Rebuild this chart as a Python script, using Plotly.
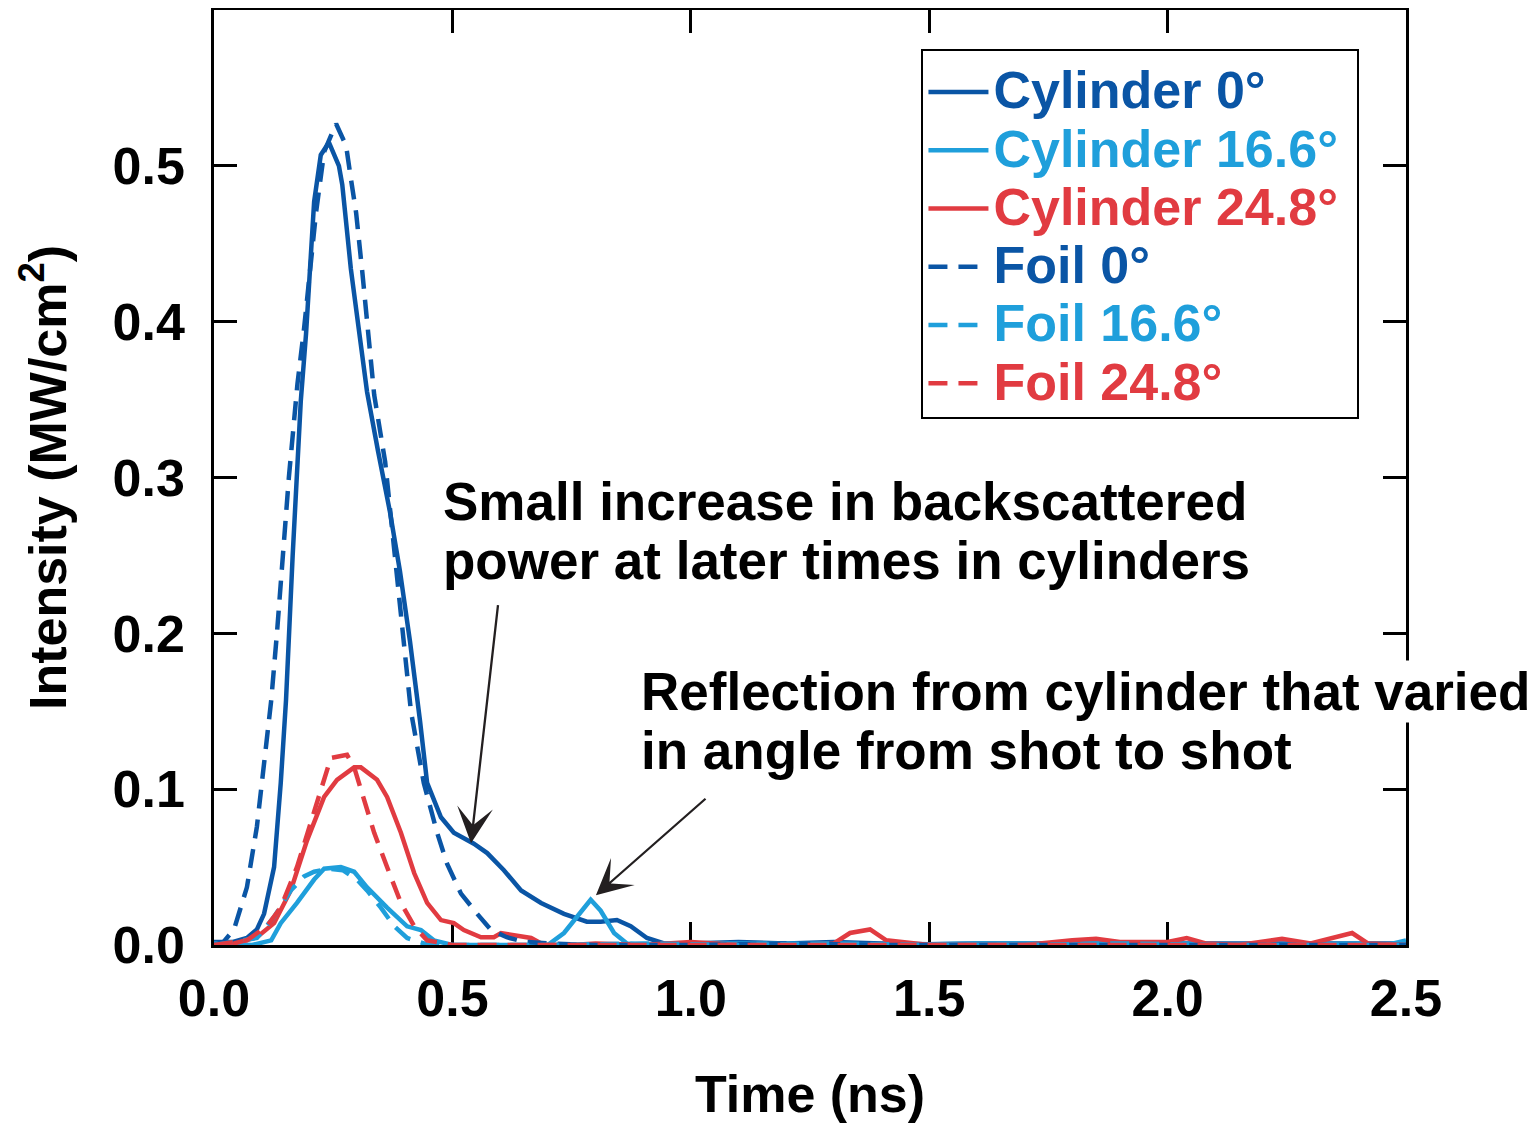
import plotly.graph_objects as go

# ---------------- data ----------------
cyl0_t = [0.0, 0.04, 0.069, 0.09, 0.105, 0.126, 0.14, 0.151, 0.165, 0.182, 0.193, 0.21, 0.224,
          0.241, 0.262, 0.269, 0.287, 0.304, 0.321, 0.344, 0.369, 0.39, 0.411, 0.432, 0.447,
          0.476, 0.503, 0.545, 0.573, 0.608, 0.644, 0.686, 0.734, 0.782, 0.811, 0.845, 0.874,
          0.908, 0.944, 1.0, 1.1, 1.2, 1.3, 1.4, 1.5, 1.6, 1.7, 1.8, 1.9, 2.0, 2.1, 2.2, 2.3,
          2.4, 2.5]
cyl0_y = [0.002, 0.002, 0.0045, 0.01, 0.02, 0.05, 0.104, 0.157, 0.25, 0.349, 0.392, 0.477, 0.507,
          0.515, 0.50, 0.488, 0.434, 0.392, 0.355, 0.317, 0.278, 0.24, 0.195, 0.144, 0.104,
          0.082, 0.072, 0.065, 0.059, 0.048, 0.035, 0.027, 0.020, 0.015, 0.015, 0.016, 0.012,
          0.0045, 0.001, 0.001, 0.002, 0.001, 0.002, 0.001, 0.0005, 0.001, 0.001, 0.0015, 0.001,
          0.001, 0.001, 0.0015, 0.001, 0.001, 0.001]

cyl166_t = [0.0, 0.08, 0.12, 0.14, 0.174, 0.21, 0.231, 0.266, 0.294, 0.321, 0.363, 0.405, 0.434,
            0.461, 0.5, 0.6, 0.7, 0.734, 0.77, 0.79, 0.811, 0.839, 0.866, 0.9, 1.0, 1.2, 1.4,
            1.6, 1.8, 2.0, 2.2, 2.4, 2.46, 2.5]
cyl166_y = [0.001, 0.0, 0.003, 0.014, 0.027, 0.042, 0.049, 0.05, 0.047, 0.037, 0.024, 0.012,
            0.0096, 0.003, 0.0, 0.0, 0.0, 0.0077, 0.022, 0.029, 0.022, 0.0077, 0.001, 0.0, 0.001,
            0.001, 0.0, 0.001, 0.001, 0.001, 0.0, 0.001, 0.0, 0.003]

cyl248_t = [0.0, 0.042, 0.09, 0.126, 0.161, 0.195, 0.231, 0.258, 0.294, 0.308, 0.342, 0.363,
            0.392, 0.42, 0.447, 0.476, 0.503, 0.524, 0.56, 0.587, 0.602, 0.629, 0.665, 0.692,
            0.75, 0.8, 0.9, 1.0, 1.1, 1.2, 1.3, 1.334, 1.376, 1.41, 1.5, 1.6, 1.7, 1.8, 1.85,
            1.9, 1.95, 2.0, 2.04, 2.08, 2.15, 2.24, 2.3, 2.35, 2.387, 2.42, 2.5]
cyl248_y = [0.0, 0.001, 0.005, 0.014, 0.035, 0.067, 0.095, 0.106, 0.114, 0.114, 0.106, 0.095,
            0.072, 0.046, 0.027, 0.016, 0.014, 0.0096, 0.005, 0.005, 0.0077, 0.0064, 0.0045, 0.0,
            0.0, 0.001, 0.0, 0.002, 0.0, 0.0, 0.001, 0.0077, 0.010, 0.003, 0.0, 0.0, 0.0, 0.003,
            0.004, 0.002, 0.002, 0.002, 0.0045, 0.001, 0.0, 0.004, 0.001, 0.0045, 0.0077, 0.001,
            0.0]

foil0_t = [0.0, 0.02, 0.042, 0.069, 0.09, 0.105, 0.12, 0.132, 0.157, 0.175, 0.189, 0.214, 0.231,
           0.256, 0.277, 0.287, 0.298, 0.311, 0.325, 0.336, 0.359, 0.38, 0.40, 0.413, 0.44,
           0.468, 0.489, 0.518, 0.552, 0.581, 0.614, 0.65, 0.7, 0.8, 0.9, 1.0, 1.2, 1.4, 1.6,
           1.8, 2.0, 2.2, 2.4, 2.5]
foil0_y = [0.0, 0.002, 0.01, 0.037, 0.076, 0.114, 0.157, 0.2, 0.3, 0.36, 0.396, 0.47, 0.509,
           0.527, 0.513, 0.492, 0.47, 0.432, 0.385, 0.353, 0.31, 0.246, 0.189, 0.150, 0.104,
           0.072, 0.052, 0.033, 0.020, 0.0096, 0.005, 0.002, 0.001, 0.0, 0.0, 0.0, 0.001, 0.0,
           0.0, 0.0, 0.0, 0.0, 0.0, 0.0]

foil166_t = [0.0, 0.09, 0.126, 0.161, 0.189, 0.21, 0.24, 0.27, 0.3, 0.321, 0.35, 0.378, 0.405,
             0.45, 0.5, 0.7, 0.9, 1.1, 1.3, 1.5, 1.7, 1.9, 2.1, 2.3, 2.5]
foil166_y = [0.0, 0.0045, 0.018, 0.035, 0.044, 0.047, 0.049, 0.048, 0.042, 0.035, 0.024, 0.012,
             0.0045, 0.0, 0.0, 0.0, 0.001, 0.0, 0.001, 0.0, 0.0, 0.001, 0.0, 0.0, 0.0]

foil248_t = [0.0, 0.069, 0.111, 0.14, 0.174, 0.21, 0.231, 0.245, 0.279, 0.294, 0.315, 0.336,
             0.363, 0.392, 0.42, 0.447, 0.5, 0.7, 0.9, 1.1, 1.3, 1.5, 1.7, 1.9, 2.1, 2.3, 2.5]
foil248_y = [0.0, 0.003, 0.012, 0.024, 0.05, 0.086, 0.108, 0.12, 0.122, 0.114, 0.093, 0.072,
             0.05, 0.027, 0.012, 0.003, 0.0, 0.0, 0.0, 0.0, 0.0, 0.0, 0.0, 0.0, 0.0, 0.0, 0.0]

series_names = ["Cylinder 0°", "Cylinder 16.6°", "Cylinder 24.8°",
                "Foil 0°", "Foil 16.6°", "Foil 24.8°"]

x_ticks = [0.0, 0.5, 1.0, 1.5, 2.0, 2.5]
y_ticks = [0.0, 0.1, 0.2, 0.3, 0.4, 0.5]

# ---------------- styling ----------------
DARK = "#0a55a5"
LIGHT = "#1f9fdb"
RED = "#e13b41"
FONT = "Liberation Sans"
FS = 52
FS_ANN = 53
DASH = "19px,11px"

series = [
    (cyl0_t, cyl0_y, DARK, "solid"),
    (cyl166_t, cyl166_y, LIGHT, "solid"),
    (cyl248_t, cyl248_y, RED, "solid"),
    (foil0_t, foil0_y, DARK, DASH),
    (foil166_t, foil166_y, LIGHT, DASH),
    (foil248_t, foil248_y, RED, DASH),
]

fig = go.Figure()
for name, (t, y, col, dash) in zip(series_names, series):
    fig.add_trace(go.Scatter(
        x=t, y=y, mode="lines",
        name=f"<span style='color:{col};font-size:{FS}px'>{name}&#160;</span>",
        line=dict(color=col, width=4.5, dash=dash),
        hoverinfo="skip",
    ))

axis_common = dict(
    showline=True, linecolor="black", linewidth=2.5, mirror="ticks",
    ticks="inside", ticklen=23, tickwidth=2.5, tickcolor="black",
    showgrid=False, zeroline=False, layer="below traces",
    tickfont=dict(family=FONT, size=FS, color="black", weight="bold"),
    tickformat=".1f", automargin=False,
)

fig.update_xaxes(range=[0, 2.5], tickvals=x_ticks, ticklabelstandoff=6,
                 title=dict(text="Time (ns)", standoff=50,
                            font=dict(family=FONT, size=FS, color="black", weight="bold")),
                 **axis_common)
fig.update_yaxes(range=[0, 0.6], tickvals=y_ticks, ticklabelstandoff=16,
                 title=dict(text="Intensity (MW/cm<sup>2</sup>)", standoff=30,
                            font=dict(family=FONT, size=FS, color="black", weight="bold")),
                 **axis_common)

ann_font = dict(family=FONT, size=FS_ANN, color="black", weight="bold")
annotations = [
    dict(x=0.476, y=0.2849, xref="x", yref="y", xanchor="left", yanchor="middle",
         text="Small increase in backscattered", showarrow=False, font=ann_font),
    dict(x=0.476, y=0.247, xref="x", yref="y", xanchor="left", yanchor="middle",
         text="power at later times in cylinders", showarrow=False, font=ann_font),
    dict(x=0.8915, y=0.1626, xref="x", yref="y", xanchor="left", yanchor="middle",
         text="Reflection from cylinder that varied", showarrow=False, font=ann_font,
         bgcolor="white"),
    dict(x=0.8915, y=0.1248, xref="x", yref="y", xanchor="left", yanchor="middle",
         text="in angle from shot to shot", showarrow=False, font=ann_font),
    # arrows
    dict(x=0.539, y=0.0653, ax=0.596, ay=0.219, xref="x", yref="y", axref="x", ayref="y",
         text="", showarrow=True, arrowhead=3, arrowsize=2.6, arrowwidth=2.3,
         arrowcolor="#231f20"),
    dict(x=0.801, y=0.032, ax=1.034, ay=0.0947, xref="x", yref="y", axref="x", ayref="y",
         text="", showarrow=True, arrowhead=3, arrowsize=2.6, arrowwidth=2.3,
         arrowcolor="#231f20"),
]

# page body has an 8px default margin, so the figure is drawn 8px smaller
fig.update_layout(
    width=1529, height=1117,
    margin=dict(l=206, r=131, t=2, b=180),
    paper_bgcolor="white", plot_bgcolor="white",
    font=dict(family=FONT, color="black"),
    showlegend=True,
    legend=dict(
        x=0.5935, y=0.958, xanchor="left", yanchor="top",
        bgcolor="white", bordercolor="black", borderwidth=2,
        font=dict(family=FONT, size=42.5, weight="bold"),
        title=dict(text="&#160;", font=dict(size=5)),
        itemwidth=60, tracegroupgap=0,
    ),
    annotations=annotations,
)

fig.write_html("out.html")
